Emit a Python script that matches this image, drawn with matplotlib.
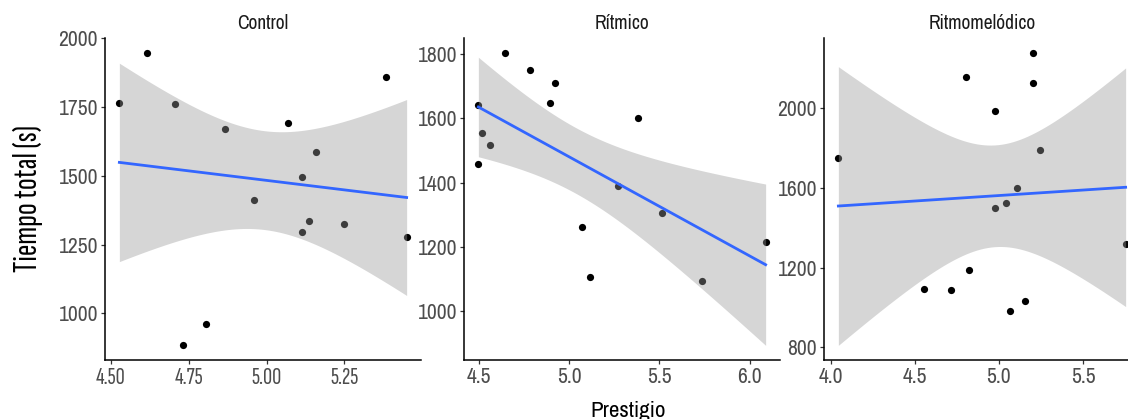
import numpy as np
import matplotlib
matplotlib.use("Agg")
from matplotlib import pyplot as plt
from matplotlib import font_manager as fm

# --- datos ---
grupos = ["Control", "Rítmico", "Ritmomelódico"]

control_x = [4.527, 4.617, 4.707, 4.868, 4.958, 5.068, 5.113, 5.158, 5.113, 5.136,
             5.250, 5.385, 5.450, 4.731, 4.806]
control_y = [1764, 1946, 1762, 1671, 1411, 1693, 1494, 1587, 1294, 1334,
             1324, 1859, 1278, 884, 960]

ritmico_x = [4.498, 4.520, 4.563, 4.498, 4.646, 4.784, 4.924, 4.895, 5.380, 5.269,
             5.070, 5.116, 5.513, 5.734, 6.088]
ritmico_y = [1641, 1554, 1516, 1457, 1805, 1752, 1711, 1649, 1600, 1388,
             1263, 1105, 1305, 1093, 1214]

ritmomel_x = [4.045, 4.556, 4.713, 4.802, 4.823, 4.977, 4.977, 5.045, 5.067, 5.110,
              5.156, 5.200, 5.200, 5.243, 5.754]
ritmomel_y = [1751, 1093, 1086, 2157, 1186, 1983, 1497, 1522, 981, 1600,
              1033, 2277, 2127, 1787, 1316]

xticks = [[4.50, 4.75, 5.00, 5.25], [4.5, 5.0, 5.5, 6.0], [4.0, 4.5, 5.0, 5.5]]
xticklabels = [["4.50", "4.75", "5.00", "5.25"], ["4.5", "5.0", "5.5", "6.0"],
               ["4.0", "4.5", "5.0", "5.5"]]
yticks = [[1000, 1250, 1500, 1750, 2000], [1000, 1200, 1400, 1600, 1800],
          [800, 1200, 1600, 2000]]

datos = [(control_x, control_y), (ritmico_x, ritmico_y), (ritmomel_x, ritmomel_y)]


def elegir_fuente(candidatas):
    instaladas = {f.name for f in fm.fontManager.ttflist}
    for c in candidatas:
        if c in instaladas:
            return c
    return "DejaVu Sans"


fuente = elegir_fuente(["Liberation Sans Narrow", "Arial Narrow", "Archivo Narrow",
                        "Roboto Condensed"])
fuente_estrecha = elegir_fuente(["Sofia Sans Extra Condensed", "Saira Extra Condensed",
                                 "Pathway Gothic One", "Roboto Condensed"])
plt.rcParams["font.family"] = [fuente, "DejaVu Sans"]


def ajuste_lineal(x, y, n=80):
    # lm + intervalo de confianza del 95 % (como geom_smooth(method = "lm"))
    x = np.asarray(x, float)
    y = np.asarray(y, float)
    b1, b0 = np.polyfit(x, y, 1)
    resid = y - (b0 + b1 * x)
    gl = len(x) - 2
    s = np.sqrt(np.sum(resid ** 2) / gl)
    sxx = np.sum((x - x.mean()) ** 2)
    xs = np.linspace(x.min(), x.max(), n)
    ys = b0 + b1 * xs
    t = 2.160  # qt(0.975, 13)
    se = s * np.sqrt(1 / len(x) + (xs - x.mean()) ** 2 / sxx)
    return xs, ys, ys - t * se, ys + t * se


W, H = 1128, 419
fig = plt.figure(figsize=(W / 100, H / 100), dpi=100)

izquierdas = [105, 464, 824]
ancho, arriba, abajo = 316, 38, 360

for i, (gx, gy) in enumerate(datos):
    ax = fig.add_axes([izquierdas[i] / W, 1 - abajo / H, ancho / W, (abajo - arriba) / H])
    ax.scatter(gx, gy, s=27, color="black", linewidths=0, zorder=2)
    xs, ys, lo, hi = ajuste_lineal(gx, gy)
    ax.fill_between(xs, lo, hi, color="#999999", alpha=0.4, linewidth=0, zorder=3)
    ax.plot(xs, ys, color="#3366FF", linewidth=2.0, zorder=4)
    ax.margins(0.05)

    ax.set_xticks(xticks[i])
    ax.set_xticklabels(xticklabels[i])
    ax.set_yticks(yticks[i])
    ax.set_yticklabels([str(v) for v in yticks[i]])
    for s in ["top", "right"]:
        ax.spines[s].set_visible(False)
    for s in ["left", "bottom"]:
        ax.spines[s].set_linewidth(1.1)
        ax.spines[s].set_color("black")
    ax.tick_params(length=3, width=0.9, color="#333333", labelcolor="#4D4D4D", pad=2)
    ax.tick_params(axis="y", labelsize=15.5)
    if i == 0:
        for lab in ax.get_xticklabels():
            lab.set_fontfamily(fuente_estrecha)
            lab.set_fontsize(18)
    else:
        ax.tick_params(axis="x", labelsize=15.5)

    ax.annotate(grupos[i], xy=(0.5, 1), xycoords="axes fraction",
                xytext=(0, 14.5 * 0.72), textcoords="offset points",
                ha="center", va="center", fontsize=14, color="#1A1A1A")

fig.text(28 / W, 1 - 199 / H, "Tiempo total (s)", rotation=90, ha="center", va="center",
         fontsize=25, color="black", family=fuente_estrecha)
fig.text(628 / W, 2 / H, "Prestigio", ha="center", va="baseline", fontsize=16.5,
         color="black")

fig.savefig("out.png", dpi=100)
